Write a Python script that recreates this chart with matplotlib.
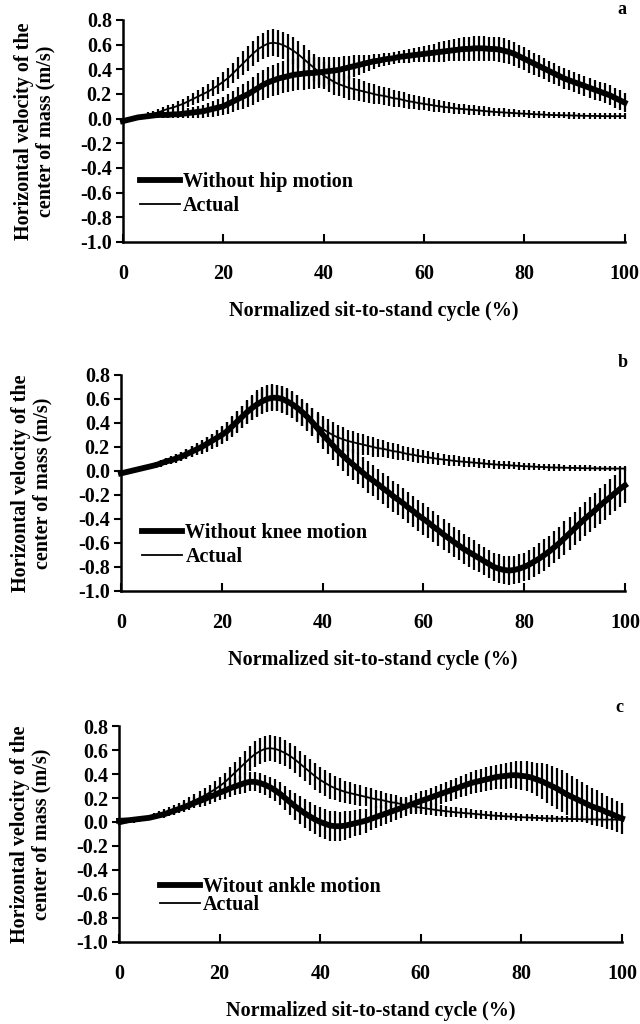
import numpy as np
import matplotlib
matplotlib.use('Agg')
import matplotlib.pyplot as plt
from matplotlib.ticker import FormatStrFormatter

plt.rcParams['font.family'] = ['Liberation Serif', 'DejaVu Serif']
plt.rcParams['font.weight'] = 'bold'
plt.rcParams['axes.unicode_minus'] = False

# Normalized sit-to-stand cycle (%), one sample per percent
cycle = np.arange(0, 101)

# Actual horizontal COM velocity (same in all three panels), mean and SD
actual_mean = [
    -0.02, -0.01, 0.00, 0.01, 0.02, 0.03, 0.04, 0.05, 0.065, 0.08,
    0.09, 0.105, 0.12, 0.14, 0.16, 0.18, 0.20, 0.22, 0.245, 0.27,
    0.30, 0.33, 0.37, 0.41, 0.45, 0.49, 0.53, 0.565, 0.59, 0.61,
    0.615, 0.61, 0.595, 0.575, 0.55, 0.52, 0.485, 0.45, 0.415, 0.38,
    0.35, 0.325, 0.30, 0.28, 0.265, 0.25, 0.24, 0.23, 0.22, 0.21,
    0.20, 0.19, 0.185, 0.175, 0.165, 0.16, 0.15, 0.14, 0.135, 0.125,
    0.12, 0.113, 0.107, 0.10, 0.095, 0.09, 0.085, 0.08, 0.077, 0.073,
    0.07, 0.066, 0.062, 0.058, 0.055, 0.052, 0.05, 0.047, 0.045, 0.042,
    0.04, 0.038, 0.036, 0.034, 0.032, 0.03, 0.029, 0.028, 0.027, 0.026,
    0.025, 0.024, 0.023, 0.022, 0.022, 0.021, 0.02, 0.02, 0.02, 0.02,
    0.02]
actual_sd = [
    0.005, 0.01, 0.012, 0.015, 0.018, 0.02, 0.022, 0.025, 0.028, 0.03,
    0.032, 0.035, 0.038, 0.042, 0.046, 0.05, 0.055, 0.06, 0.065, 0.07,
    0.075, 0.08, 0.085, 0.09, 0.095, 0.1, 0.103, 0.106, 0.108, 0.11,
    0.11, 0.11, 0.11, 0.11, 0.11, 0.11, 0.11, 0.11, 0.11, 0.11,
    0.11, 0.11, 0.105, 0.10, 0.10, 0.095, 0.09, 0.09, 0.085, 0.08,
    0.08, 0.075, 0.072, 0.07, 0.067, 0.065, 0.062, 0.06, 0.058, 0.056,
    0.054, 0.052, 0.05, 0.048, 0.046, 0.045, 0.044, 0.042, 0.041, 0.04,
    0.039, 0.038, 0.037, 0.036, 0.035, 0.034, 0.033, 0.032, 0.031, 0.03,
    0.03, 0.029, 0.028, 0.028, 0.027, 0.027, 0.026, 0.026, 0.025, 0.025,
    0.025, 0.024, 0.024, 0.024, 0.023, 0.023, 0.023, 0.022, 0.022, 0.022,
    0.022]

# (a) without hip motion
hip_mean = [
    -0.02, -0.01, 0.00, 0.01, 0.015, 0.02, 0.025, 0.03, 0.03, 0.03,
    0.035, 0.035, 0.04, 0.045, 0.05, 0.055, 0.06, 0.07, 0.08, 0.09,
    0.10, 0.12, 0.14, 0.16, 0.18, 0.20, 0.225, 0.25, 0.275, 0.295,
    0.31, 0.325, 0.335, 0.345, 0.355, 0.36, 0.365, 0.37, 0.37, 0.375,
    0.38, 0.385, 0.39, 0.395, 0.405, 0.415, 0.425, 0.435, 0.445, 0.455,
    0.465, 0.47, 0.48, 0.485, 0.49, 0.50, 0.505, 0.51, 0.515, 0.52,
    0.525, 0.53, 0.535, 0.54, 0.545, 0.55, 0.555, 0.56, 0.565, 0.565,
    0.57, 0.57, 0.57, 0.565, 0.565, 0.56, 0.55, 0.54, 0.525, 0.505,
    0.485, 0.465, 0.445, 0.425, 0.405, 0.385, 0.365, 0.345, 0.325, 0.31,
    0.295, 0.28, 0.265, 0.25, 0.235, 0.22, 0.205, 0.19, 0.17, 0.15,
    0.13]
hip_sd = [
    0.005, 0.01, 0.012, 0.015, 0.018, 0.02, 0.022, 0.024, 0.026, 0.028,
    0.03, 0.033, 0.036, 0.04, 0.044, 0.048, 0.053, 0.058, 0.063, 0.068,
    0.073, 0.08, 0.087, 0.094, 0.1, 0.106, 0.112, 0.118, 0.122, 0.125,
    0.128, 0.13, 0.13, 0.13, 0.13, 0.13, 0.13, 0.128, 0.126, 0.124,
    0.12, 0.115, 0.11, 0.105, 0.1, 0.095, 0.088, 0.08, 0.072, 0.065,
    0.06, 0.055, 0.052, 0.05, 0.05, 0.05, 0.052, 0.055, 0.058, 0.062,
    0.066, 0.07, 0.074, 0.078, 0.082, 0.086, 0.09, 0.093, 0.096, 0.098,
    0.1, 0.1, 0.1, 0.1, 0.1, 0.1, 0.1, 0.1, 0.098, 0.096,
    0.094, 0.092, 0.09, 0.088, 0.086, 0.085, 0.084, 0.083, 0.082, 0.081,
    0.08, 0.08, 0.08, 0.08, 0.08, 0.08, 0.08, 0.08, 0.08, 0.08,
    0.08]

# (b) without knee motion
knee_mean = [
    -0.02, -0.01, 0.00, 0.01, 0.02, 0.03, 0.04, 0.05, 0.065, 0.08,
    0.09, 0.105, 0.12, 0.14, 0.16, 0.18, 0.20, 0.225, 0.25, 0.275,
    0.30, 0.33, 0.37, 0.41, 0.45, 0.49, 0.525, 0.555, 0.58, 0.60,
    0.61, 0.61, 0.60, 0.58, 0.555, 0.525, 0.49, 0.45, 0.405, 0.355,
    0.305, 0.26, 0.215, 0.17, 0.13, 0.09, 0.055, 0.02, -0.015, -0.05,
    -0.08, -0.11, -0.145, -0.175, -0.21, -0.24, -0.27, -0.305, -0.335, -0.37,
    -0.40, -0.43, -0.465, -0.495, -0.53, -0.56, -0.59, -0.62, -0.65, -0.675,
    -0.70, -0.725, -0.75, -0.775, -0.80, -0.815, -0.825, -0.83, -0.825, -0.815,
    -0.80, -0.78, -0.755, -0.73, -0.70, -0.67, -0.635, -0.60, -0.56, -0.52,
    -0.48, -0.44, -0.40, -0.365, -0.33, -0.29, -0.255, -0.22, -0.185, -0.15,
    -0.12]
knee_sd = [
    0.005, 0.008, 0.01, 0.012, 0.015, 0.018, 0.02, 0.022, 0.025, 0.028,
    0.03, 0.033, 0.036, 0.04, 0.044, 0.048, 0.052, 0.056, 0.06, 0.065,
    0.07, 0.075, 0.08, 0.085, 0.09, 0.095, 0.1, 0.104, 0.107, 0.11,
    0.11, 0.11, 0.11, 0.11, 0.11, 0.11, 0.112, 0.114, 0.116, 0.118,
    0.12, 0.122, 0.124, 0.126, 0.128, 0.13, 0.13, 0.13, 0.13, 0.13,
    0.13, 0.13, 0.13, 0.13, 0.13, 0.13, 0.13, 0.13, 0.13, 0.13,
    0.13, 0.13, 0.13, 0.128, 0.128, 0.127, 0.126, 0.125, 0.125, 0.125,
    0.125, 0.12, 0.12, 0.12, 0.12, 0.12, 0.12, 0.12, 0.12, 0.12,
    0.12, 0.125, 0.125, 0.13, 0.13, 0.13, 0.135, 0.135, 0.14, 0.14,
    0.14, 0.14, 0.145, 0.145, 0.145, 0.15, 0.15, 0.15, 0.15, 0.15,
    0.15]

# (c) without ankle motion
ankle_mean = [
    0.01, 0.012, 0.015, 0.02, 0.025, 0.03, 0.035, 0.045, 0.055, 0.065,
    0.08, 0.095, 0.11, 0.125, 0.14, 0.16, 0.175, 0.19, 0.21, 0.225,
    0.245, 0.26, 0.28, 0.295, 0.31, 0.325, 0.335, 0.335, 0.325, 0.31,
    0.29, 0.265, 0.235, 0.20, 0.165, 0.13, 0.10, 0.07, 0.045, 0.02,
    0.00, -0.015, -0.03, -0.035, -0.035, -0.03, -0.02, -0.01, 0.00, 0.01,
    0.025, 0.04, 0.055, 0.07, 0.085, 0.10, 0.115, 0.13, 0.145, 0.16,
    0.175, 0.19, 0.205, 0.22, 0.235, 0.25, 0.265, 0.28, 0.295, 0.31,
    0.325, 0.335, 0.345, 0.355, 0.365, 0.375, 0.38, 0.385, 0.39, 0.39,
    0.385, 0.38, 0.37, 0.355, 0.34, 0.32, 0.30, 0.28, 0.255, 0.23,
    0.21, 0.19, 0.17, 0.15, 0.13, 0.115, 0.10, 0.08, 0.065, 0.045,
    0.03]
ankle_sd = [
    0.005, 0.008, 0.01, 0.012, 0.015, 0.018, 0.02, 0.022, 0.025, 0.028,
    0.03, 0.033, 0.036, 0.04, 0.043, 0.046, 0.05, 0.053, 0.056, 0.06,
    0.063, 0.066, 0.07, 0.073, 0.076, 0.08, 0.08, 0.08, 0.082, 0.085,
    0.088, 0.092, 0.096, 0.1, 0.105, 0.11, 0.115, 0.12, 0.122, 0.124,
    0.125, 0.125, 0.125, 0.125, 0.122, 0.12, 0.115, 0.11, 0.105, 0.1,
    0.095, 0.09, 0.087, 0.085, 0.082, 0.08, 0.08, 0.08, 0.08, 0.08,
    0.08, 0.08, 0.081, 0.082, 0.083, 0.085, 0.087, 0.089, 0.09, 0.092,
    0.094, 0.096, 0.098, 0.1, 0.102, 0.104, 0.106, 0.108, 0.11, 0.115,
    0.12, 0.125, 0.13, 0.14, 0.15, 0.16, 0.165, 0.17, 0.175, 0.175,
    0.175, 0.17, 0.165, 0.16, 0.155, 0.15, 0.145, 0.14, 0.135, 0.13,
    0.13]

x_ticks = [0, 20, 40, 60, 80, 100]
y_ticks = [-1.0, -0.8, -0.6, -0.4, -0.2, 0.0, 0.2, 0.4, 0.6, 0.8]

ylabel_txt = 'Horizontal velocity of the\ncenter of mass (m/s)'
xlabel_txt = 'Normalized sit-to-stand cycle (%)'

panels = [
    # mean, sd, legend label, letter, axes rect, legend anchor, letter y, label spacing
    (hip_mean, hip_sd, 'Without hip motion', 'a',
     [0.192, 0.7637, 0.784, 0.2168], (0.034, 0.315), 1.045, 0.2),
    (knee_mean, knee_sd, 'Without knee motion', 'b',
     [0.189, 0.4229, 0.7875, 0.2109], (0.042, 0.315), 1.06, 0.2),
    (ankle_mean, ankle_sd, 'Witout ankle motion', 'c',
     [0.186, 0.0801, 0.786, 0.2109], (0.081, 0.30), 1.085, -0.1),
]

FS = 14.5

fig = plt.figure(figsize=(6.4, 10.24), dpi=100)

for mean, sd, lab, letter, rect, leg_xy, let_y, lspace in panels:
    ax = fig.add_axes(rect)

    # actual curve, thin line with SD bars
    thin = ax.errorbar(cycle, actual_mean, yerr=actual_sd, fmt='-',
                       color='black', lw=1.3, elinewidth=1.6, capsize=0)
    # simulated curve, thick line with SD bars
    thick = ax.errorbar(cycle, mean, yerr=sd, fmt='-', color='black',
                        lw=4.2, elinewidth=1.6, capsize=0)
    for cont in (thin, thick):
        for art in cont.get_children():
            art.set_clip_on(False)

    ax.set_xlim(0, 100)
    ax.set_ylim(-1.0, 0.8)
    ax.set_xticks(x_ticks)
    ax.set_yticks(y_ticks)
    ax.yaxis.set_major_formatter(FormatStrFormatter('%.1f'))

    for side in ['top', 'right']:
        ax.spines[side].set_visible(False)
    for side in ['left', 'bottom']:
        ax.spines[side].set_linewidth(1.8)

    ax.tick_params(axis='y', direction='out', length=5, width=1.5,
                   labelsize=FS, pad=3)
    ax.tick_params(axis='x', direction='in', length=6, width=1.5,
                   labelsize=FS, pad=16)

    ax.set_xlabel(xlabel_txt, fontsize=FS, fontweight='bold', labelpad=12)
    ax.set_ylabel(ylabel_txt, fontsize=FS, fontweight='bold',
                  linespacing=1.1)
    ax.yaxis.set_label_coords(-0.135, 0.5)

    ax.legend([thick.lines[0], thin.lines[0]], [lab, 'Actual'],
              loc='upper left', bbox_to_anchor=leg_xy, frameon=False,
              fontsize=FS, handlelength=2.0, handletextpad=0.15,
              borderpad=0, borderaxespad=0, labelspacing=lspace)

    ax.text(0.995, let_y, letter, transform=ax.transAxes, fontsize=13,
            fontweight='bold', ha='center', va='center')

fig.savefig('out.png', dpi=100)
